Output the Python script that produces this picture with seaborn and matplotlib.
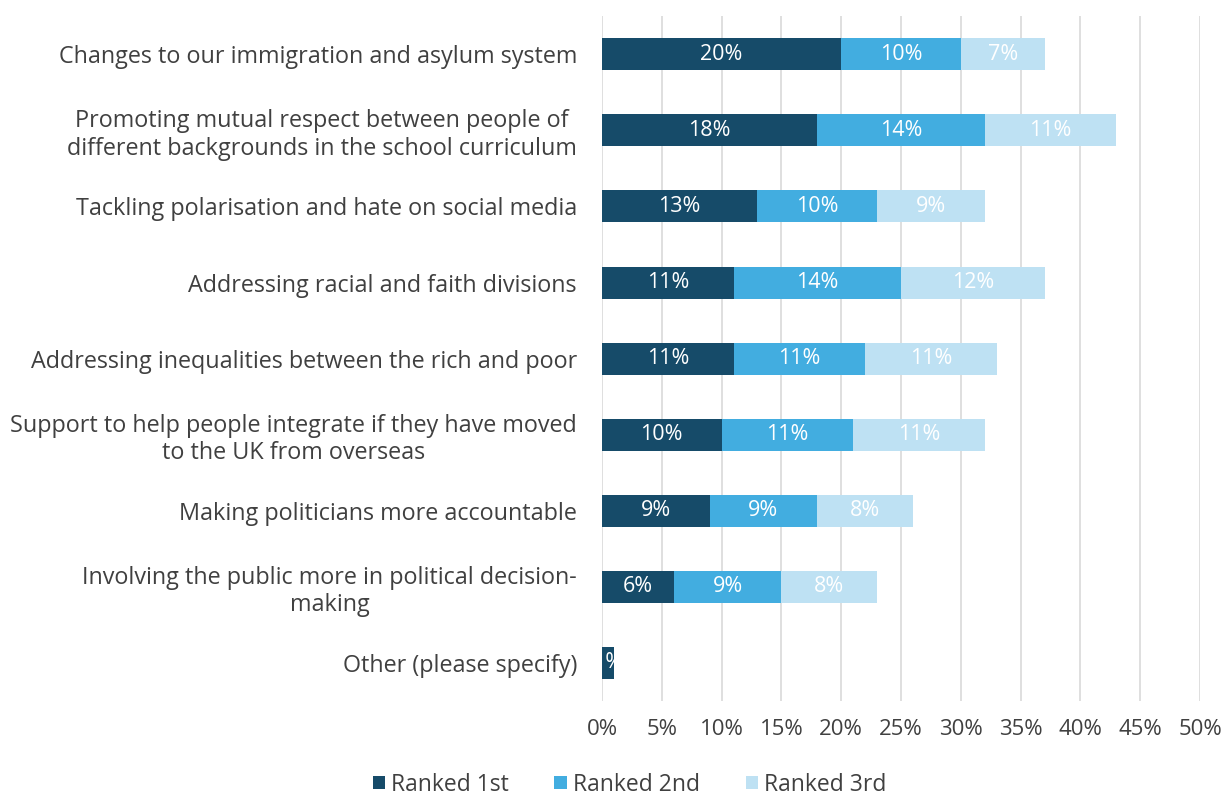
import matplotlib
matplotlib.use("Agg")
import matplotlib.pyplot as plt
import seaborn as sns
import pandas as pd
import numpy as np
from matplotlib.patches import Patch

categories = [
    "Changes to our immigration and asylum system",
    "Promoting mutual respect between people of\ndifferent backgrounds in the school curriculum",
    "Tackling polarisation and hate on social media",
    "Addressing racial and faith divisions",
    "Addressing inequalities between the rich and poor",
    "Support to help people integrate if they have moved\nto the UK from overseas",
    "Making politicians more accountable",
    "Involving the public more in political decision-\nmaking",
    "Other (please specify)",
]
ranked_1st = [20, 18, 13, 11, 11, 10, 9, 6, 1]
ranked_2nd = [10, 14, 10, 14, 11, 11, 9, 9, 0]
ranked_3rd = [7, 11, 9, 12, 11, 11, 8, 8, 0]
series_names = ["Ranked 1st", "Ranked 2nd", "Ranked 3rd"]
colors = ["#164B69", "#42ADE0", "#BEE1F3"]
xticks = [0, 5, 10, 15, 20, 25, 30, 35, 40, 45, 50]

sns.set_theme(style="white")
plt.rcParams["font.family"] = ["Open Sans", "DejaVu Sans"]

FS_Y = 16.8
FS_X = 16
FS_BAR = 15.5
FS_LEG = 16.5

df = pd.DataFrame({"cat": categories, "r1": ranked_1st, "r2": ranked_2nd, "r3": ranked_3rd})
df["c1"] = df["r1"]
df["c2"] = df["r1"] + df["r2"]
df["c3"] = df["c2"] + df["r3"]

fig = plt.figure(figsize=(12.27, 7.98), dpi=100)
ax = fig.add_axes([0.4906, 0.1216, 0.4875, 0.858])

for col, c in zip(["c3", "c2", "c1"], colors[::-1]):
    sns.barplot(data=df, y="cat", x=col, color=c, ax=ax, width=0.42,
                saturation=1, edgecolor="none", linewidth=0, orient="h")

ax.set_xlim(0, 50)
ax.set_xticks(xticks)
ax.set_xticklabels([f"{t}%" for t in xticks], fontsize=FS_X, color="#404040")
ax.tick_params(axis="y", labelsize=FS_Y, labelcolor="#404040", length=0, pad=18)
for lbl in ax.get_yticklabels():
    lbl.set_multialignment("center")
ax.tick_params(axis="x", length=0, pad=13)
ax.set_xlabel("")
ax.set_ylabel("")
ax.xaxis.grid(True, color="#D9D9D9", linewidth=1.2)
ax.set_axisbelow(True)
for s in ax.spines.values():
    s.set_visible(False)
ax.set_ylim(len(categories) - 0.5, -0.5)

for i, row in df.iterrows():
    segs = [(0, row.r1, row.r1), (row.c1, row.r2, row.r2), (row.c2, row.r3, row.r3)]
    for (start, w, v) in segs:
        if v > 0:
            ax.text(start + w / 2, i, f"{v}%", ha="center", va="center",
                    color="white", fontsize=FS_BAR)

handles = [Patch(facecolor=c, edgecolor="none") for c in colors]
fig.legend(handles, series_names, loc="lower center", bbox_to_anchor=(0.513, -0.024),
           ncol=3, frameon=False, fontsize=FS_LEG, labelcolor="#404040",
           handlelength=0.55, handleheight=0.55, handletextpad=0.25, columnspacing=2.0)

fig.savefig("out.png", dpi=100)
